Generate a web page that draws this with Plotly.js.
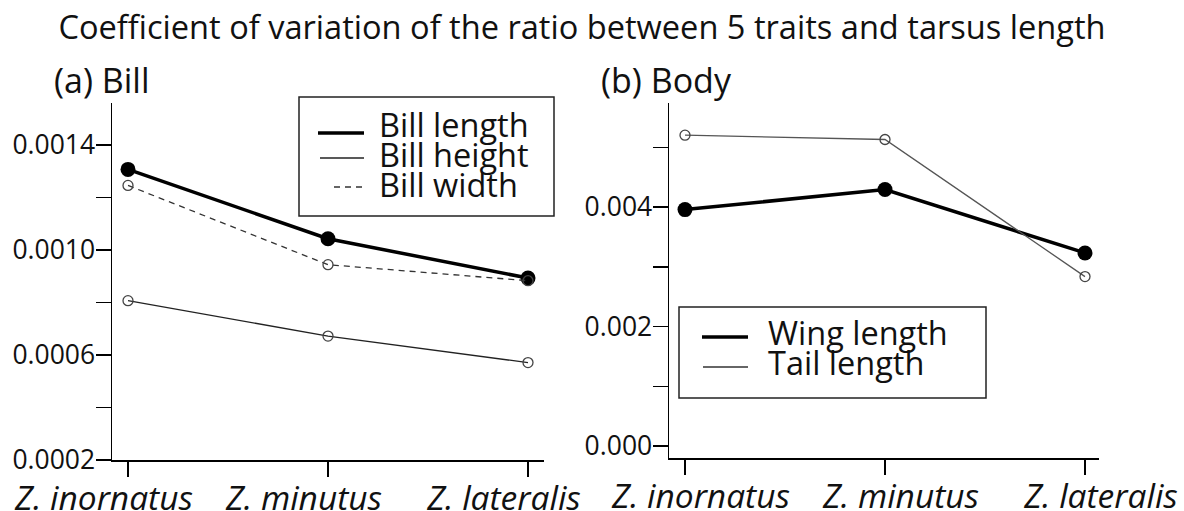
<!DOCTYPE html>
<html>
<head>
<meta charset="utf-8">
<script src="https://cdn.plot.ly/plotly-3.0.1.min.js"></script>
<style>html,body{margin:0;padding:0;background:#fff;}#chart{width:1184px;height:511px;}</style>
</head>
<body>
<div id="chart"></div>
<script>
// ---- data ----
const species = ["Z. inornatus", "Z. minutus", "Z. lateralis"];
const billLength = [0.001307, 0.001043, 0.000893];
const billHeight = [0.000807, 0.000672, 0.000571];
const billWidth  = [0.001246, 0.000944, 0.000883];
const wingLength = [0.003960, 0.004296, 0.003234];
const tailLength = [0.005206, 0.005134, 0.002838];
const billTickVals = [0.0002, 0.0004, 0.0006, 0.0008, 0.0010, 0.0012, 0.0014];
const billTickText = ["0.0002", "", "0.0006", "", "0.0010", "", "0.0014"];
const bodyTickVals = [0.000, 0.001, 0.002, 0.003, 0.004, 0.005];
const bodyTickText = ["0.000", "", "0.002", "", "0.004", ""];
const billNames = ["Bill length", "Bill height", "Bill width"];
const bodyNames = ["Wing length", "Tail length"];
const titleText = "Coefficient of variation of the ratio between 5 traits and tarsus length";
const panelTitles = ["(a) Bill", "(b) Body"];

const W = 1184, H = 511;
const FONT = "'Open Sans', 'Noto Sans', sans-serif";
const INK = "#111";
const px = v => v / W, py = v => 1 - v / H;

// series styles (thick/filled vs thin/open)
const styles = {
  "Bill length": {width: 3.5, color: "#000", dash: "solid", filled: true},
  "Bill height": {width: 1.3, color: "#222", dash: "solid", filled: false},
  "Bill width":  {width: 1.3, color: "#333", dash: "6px,5px", filled: false},
  "Wing length": {width: 3.5, color: "#000", dash: "solid", filled: true},
  "Tail length": {width: 1.3, color: "#555", dash: "solid", filled: false}
};

function seriesTrace(name, y, xa, ya) {
  const s = styles[name];
  return {x: species, y: y, xaxis: xa, yaxis: ya, mode: "lines+markers", name: name,
          showlegend: false, hoverinfo: "skip", cliponaxis: false,
          line: {color: s.color, width: s.width, dash: s.dash},
          marker: s.filled ? {symbol: "circle", size: 15, color: "#000", line: {width: 0}}
                           : {symbol: "circle-open", size: 10, color: "#444", line: {width: 1.3, color: "#444"}}};
}

const traces = [
  seriesTrace(billNames[0], billLength, "x", "y"),
  seriesTrace(billNames[1], billHeight, "x", "y"),
  seriesTrace(billNames[2], billWidth, "x", "y"),
  seriesTrace(bodyNames[0], wingLength, "x2", "y2"),
  seriesTrace(bodyNames[1], tailLength, "x2", "y2")
];

const xCommon = {type: "category", showline: true, linecolor: "#000", linewidth: 1.5,
  ticks: "outside", ticklen: 15, tickwidth: 1.5, tickcolor: "#000",
  showgrid: false, zeroline: false, fixedrange: true,
  tickfont: {family: FONT, size: 33.5, color: INK, style: "italic"}, ticklabelstandoff: -7};
const yCommon = {showline: true, linecolor: "#000", linewidth: 1.5,
  ticks: "outside", ticklen: 15, tickwidth: 1.5, tickcolor: "#000",
  showgrid: false, zeroline: false, fixedrange: true,
  tickfont: {family: FONT, size: 26.5, color: INK}, ticklabelstandoff: -5};

// ---- manual legends (box, sample lines, labels) ----
const shapes = [], annotations = [];
function legendBox(x0, y0, x1, y1) {
  shapes.push({type: "rect", xref: "paper", yref: "paper", x0: px(x0), x1: px(x1), y0: py(y1), y1: py(y0),
               line: {color: "#222", width: 1.5}, fillcolor: "#fff", layer: "above"});
}
function legendItem(name, lineX0, lineX1, lineY, textX, textY) {
  const s = styles[name];
  shapes.push({type: "line", xref: "paper", yref: "paper", x0: px(lineX0), x1: px(lineX1), y0: py(lineY), y1: py(lineY),
               line: {color: s.color === "#555" ? "#333" : s.color, width: s.width, dash: s.dash}, layer: "above"});
  annotations.push({text: name, xref: "paper", yref: "paper", x: px(textX), y: py(textY), xanchor: "left", yanchor: "middle",
                    showarrow: false, font: {family: FONT, size: 32.5, color: INK}});
}
legendBox(299, 97, 554, 216);
legendItem(billNames[0], 318, 364, 133, 377, 124);
legendItem(billNames[1], 320, 364, 158, 377, 154);
legendItem(billNames[2], 334, 364, 187, 377, 184);
legendBox(679, 307, 986, 398);
legendItem(bodyNames[0], 702, 748, 337, 766, 332);
legendItem(bodyNames[1], 703, 748, 367, 766, 362);

annotations.push(
  {text: panelTitles[0], xref: "paper", yref: "paper", x: px(52), y: py(80),
   xanchor: "left", yanchor: "middle", showarrow: false, font: {family: FONT, size: 34, color: INK}},
  {text: panelTitles[1], xref: "paper", yref: "paper", x: px(599), y: py(80),
   xanchor: "left", yanchor: "middle", showarrow: false, font: {family: FONT, size: 34, color: INK}}
);

const layout = {
  width: W, height: H,
  margin: {l: 0, r: 0, t: 0, b: 0},
  paper_bgcolor: "#fff", plot_bgcolor: "#fff",
  font: {family: FONT, color: INK},
  showlegend: false,
  title: {text: titleText, font: {family: FONT, size: 32.6, color: INK},
          x: px(582), xanchor: "center", xref: "paper", y: 1 - 28/H, yanchor: "middle", yref: "container"},
  xaxis: Object.assign({}, xCommon, {domain: [px(112), px(544)], range: [-0.08, 2.08], anchor: "y",
          ticklabelshift: -24}),
  yaxis: Object.assign({}, yCommon, {domain: [py(460), py(103)], range: [0.0002, 0.00156], anchor: "x",
          tickvals: billTickVals, ticktext: billTickText}),
  xaxis2: Object.assign({}, xCommon, {domain: [px(669), px(1099)], range: [-0.08, 2.07], anchor: "y2",
          ticklabelshift: 16}),
  yaxis2: Object.assign({}, yCommon, {domain: [py(458), py(103)], range: [-0.0002, 0.005745], anchor: "x2",
          tickvals: bodyTickVals, ticktext: bodyTickText}),
  shapes: shapes,
  annotations: annotations
};

Plotly.newPlot("chart", traces, layout, {staticPlot: true, displayModeBar: false});
</script>
</body>
</html>
